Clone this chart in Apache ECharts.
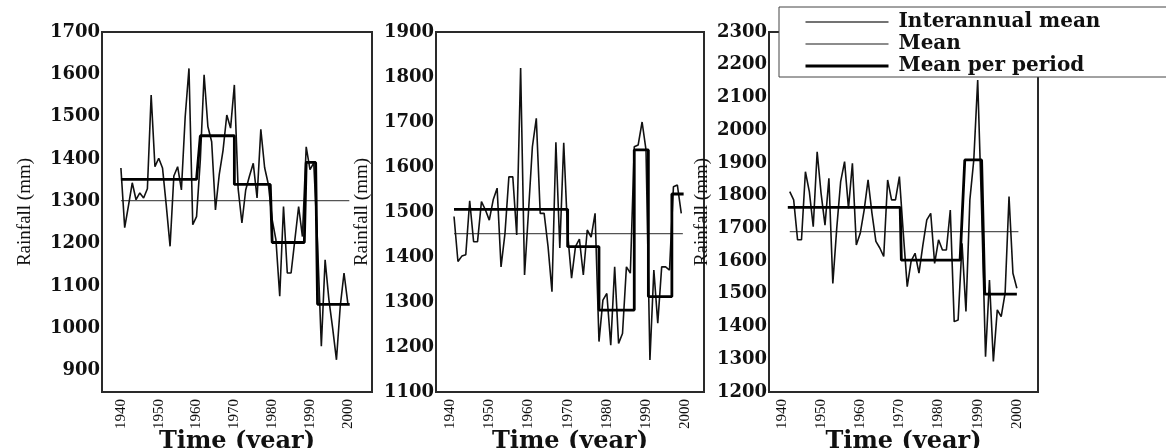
<!DOCTYPE html>
<html><head><meta charset="utf-8">
<script src="https://cdn.jsdelivr.net/npm/echarts@6/dist/echarts.min.js"></script>
<style>html,body{margin:0;padding:0;background:#fff}#c{width:1166px;height:448px}</style>
</head><body><div id="c"></div>
<script>
// ---- data ----
const start1 = 1940, start2 = 1941, start3 = 1942;
const rain1 = [1379,1238,1290,1344,1304,1320,1308,1330,1551,1382,1402,1379,1290,1194,1360,1382,1327,1500,1614,1245,1264,1398,1599,1477,1441,1280,1363,1420,1504,1473,1575,1330,1249,1327,1360,1390,1308,1470,1380,1340,1257,1209,1076,1288,1131,1131,1209,1288,1217,1429,1375,1391,1200,958,1162,1068,1000,926,1052,1131,1060];
const rain2 = [1490,1390,1402,1405,1525,1434,1434,1523,1505,1482,1527,1553,1378,1452,1578,1578,1449,1820,1360,1500,1645,1708,1497,1497,1423,1323,1655,1420,1654,1452,1353,1423,1440,1360,1460,1444,1497,1212,1304,1319,1204,1378,1208,1230,1378,1364,1645,1649,1700,1638,1171,1371,1253,1378,1378,1371,1556,1560,1497];
const rain3 = [1812,1787,1665,1665,1873,1812,1705,1934,1807,1710,1853,1532,1700,1843,1904,1761,1899,1649,1685,1756,1848,1746,1660,1640,1614,1848,1787,1787,1858,1685,1522,1600,1624,1563,1649,1726,1746,1593,1665,1634,1634,1756,1415,1420,1654,1446,1787,1909,2153,1756,1308,1542,1293,1451,1430,1502,1797,1563,1517];
const interMean = [1302, 1452, 1690];
// [from, to, mean]
const periods1 = [[1940,1960,1352],[1961,1970,1455],[1970,1979.5,1340],[1980,1988.5,1203],[1989,1991.5,1392],[1992,2000.5,1057]];
const periods2 = [[1941,1970,1506],[1970,1978,1423],[1978,1987,1282],[1987,1990.6,1638],[1990.6,1996.6,1312],[1996.6,1999.6,1540]];
const periods3 = [[1941.5,1970.2,1764],[1970.5,1985.5,1603],[1986.7,1991,1909],[1991.8,2000,1499]];
const yRanges = [[850,1700],[1100,1900],[1200,2300]];
const yLabels = [[900,1000,1100,1200,1300,1400,1500,1600,1700],
                 [1100,1200,1300,1400,1500,1600,1700,1800,1900],
                 [1200,1300,1400,1500,1600,1700,1800,1900,2000,2100,2200,2300]];
const xRanges = [[1935,2006.4],[1936.4,2004.8],[1936.7,2005.4]];
const xLabels = [1940,1950,1960,1970,1980,1990,2000];

// ---- layout ----
const gridLefts = [102,436,769], gridWidths = [270,268,269];
const nameGaps = [67,64,57];

const rains = [[start1,rain1],[start2,rain2],[start3,rain3]];
const periods = [periods1, periods2, periods3];
const plain = v => String(v);

const grids = [], xAxes = [], yAxes = [], series = [];
for (let i = 0; i < 3; i++) {
  grids.push({left: gridLefts[i], width: gridWidths[i], top: 32, height: 360, show: true,
    containLabel: false, outerBoundsMode: 'none',
    borderColor: '#2a2a2a', borderWidth: 2, backgroundColor: 'transparent'});
  xAxes.push({type: 'value', gridIndex: i, min: xRanges[i][0], max: xRanges[i][1],
    name: 'Time (year)', nameLocation: 'middle', nameGap: 38, nameMoveOverlap: false,
    nameTextStyle: {fontFamily: 'DejaVu Serif', fontWeight: 'bold', fontSize: 24, color: '#111'},
    axisLine: {show: false}, axisTick: {show: false}, splitLine: {show: false},
    axisLabel: {customValues: xLabels, formatter: plain, rotate: 90, margin: 7, fontFamily: 'Liberation Serif', fontSize: 15, color: '#111'}});
  yAxes.push({type: 'value', gridIndex: i, min: yRanges[i][0], max: yRanges[i][1],
    name: 'Rainfall (mm)', nameLocation: 'middle', nameGap: nameGaps[i], nameRotate: 90, nameMoveOverlap: false,
    nameTextStyle: {fontFamily: 'Liberation Serif', fontSize: 19, color: '#111'},
    axisLine: {show: false}, axisTick: {show: false}, splitLine: {show: false},
    axisLabel: {customValues: yLabels[i], formatter: plain, margin: 2, fontFamily: 'DejaVu Serif', fontWeight: 'bold', fontSize: 18, color: '#111'}});
  const st = rains[i][0], vals = rains[i][1];
  const annual = vals.map((v, k) => [st + k, v]);
  const first = st, last = st + vals.length - 1;
  series.push({name: 'Interannual mean', type: 'line', xAxisIndex: i, yAxisIndex: i, symbol: 'none',
    lineStyle: {color: '#555', width: 1.3}, data: [[first, interMean[i]], [last + 0.4, interMean[i]]], z: 2});
  series.push({name: 'Mean', type: 'line', xAxisIndex: i, yAxisIndex: i, symbol: 'none',
    lineStyle: {color: '#111', width: 1.6}, data: annual, z: 3});
  const step = [];
  periods[i].forEach(p => { step.push([p[0], p[2]]); step.push([p[1], p[2]]); });
  series.push({name: 'Mean per period', type: 'line', xAxisIndex: i, yAxisIndex: i, symbol: 'none',
    lineStyle: {color: '#000', width: 2.8}, data: step, z: 4});
}

const chart = echarts.init(document.getElementById('c'), null, {renderer: 'canvas'});
chart.setOption({
  animation: false,
  backgroundColor: '#fff',
  grid: grids, xAxis: xAxes, yAxis: yAxes, series: series,
  legend: {left: 779, top: 7, orient: 'vertical', itemWidth: 83, itemHeight: 14, itemGap: 2,
    padding: [5, 90, 1, 25], borderColor: '#444', borderWidth: 1, backgroundColor: '#fff',
    selectedMode: false, z: 10,
    textStyle: {fontFamily: 'DejaVu Serif', fontWeight: 'bold', fontSize: 20, color: '#111', lineHeight: 20, padding: [0,0,0,5]},
    data: [
      {name: 'Interannual mean', itemStyle: {opacity: 0}, lineStyle: {color: '#444', width: 1.3}},
      {name: 'Mean', itemStyle: {opacity: 0}, lineStyle: {color: '#666', width: 1.3}},
      {name: 'Mean per period', itemStyle: {opacity: 0}, lineStyle: {color: '#000', width: 3}}
    ]}
});
</script></body></html>
